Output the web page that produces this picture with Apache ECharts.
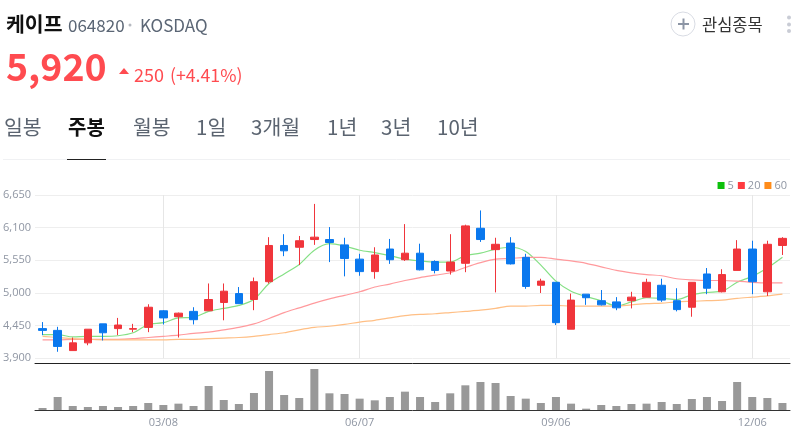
<!DOCTYPE html>
<html>
<head>
<meta charset="utf-8">
<style>
html, body { margin: 0; padding: 0; background: #fff; }
#chart { width: 805px; height: 438px; }
</style>
<script src="https://cdn.jsdelivr.net/npm/echarts@6/dist/echarts.min.js"></script>
</head>
<body>
<div id="chart"></div>
<script>
var semana = ["01/11","01/18","01/25","02/01","02/08","02/15","02/22","03/01","03/08","03/15",
  "03/22","03/29","04/05","04/12","04/19","04/26","05/03","05/10","05/17","05/24",
  "05/31","06/07","06/14","06/21","06/28","07/05","07/12","07/19","07/26","08/02",
  "08/09","08/16","08/23","08/30","09/06","09/13","09/20","09/27","10/04","10/11",
  "10/18","10/25","11/01","11/08","11/15","11/22","11/29","12/06","12/13","12/20"];
var fechasEje = ["03/08","06/07","09/06","12/06"];

// open, close, low, high
var velas = [
  [4400,4370,4290,4510],[4370,4100,4010,4430],[4030,4160,4030,4250],[4160,4390,4120,4390],[4480,4330,4200,4480],
  [4400,4460,4290,4580],[4390,4400,4340,4480],[4420,4760,4340,4810],[4700,4580,4470,4710],[4600,4660,4250,4670],
  [4690,4550,4470,4760],[4700,4890,4700,5160],[4840,5030,4540,5160],[4990,4820,4820,5100],[4890,5190,4710,5260],
  [5190,5800,5160,5940],[5800,5710,5620,5990],[5770,5880,5470,5960],[5900,5940,5810,6500],[5900,5850,5520,6110],
  [5810,5580,5280,5930],[5570,5360,5290,5660],[5360,5640,5240,5770],[5740,5560,5490,5910],[5560,5670,5540,6160],
  [5670,5390,5380,5830],[5530,5380,5330,5550],[5370,5520,5310,5990],[5500,6130,5350,6150],[6090,5900,5860,6390],
  [5730,5820,5010,5930],[5840,5490,5480,5940],[5600,5110,5070,5660],[5130,5200,5000,5240],[5180,4500,4460,5180],
  [4390,4880,4390,4990],[4980,4920,4800,4980],[4870,4800,4790,5050],[4850,4750,4710,4930],[4870,4930,4740,5020],
  [4930,5180,4930,5240],[5130,4880,4850,5240],[4870,4720,4690,5080],[4760,5180,4600,5180],[5320,5080,4980,5420],
  [5020,5310,5010,5400],[5380,5740,5380,5890],[5740,5190,4980,5880],[5020,5820,4950,5880],[5800,5920,5640,5940]
];
var media5 = [4300,4300,4260,4270,4270,4280,4330,4470,4500,4580,
  4590,4690,4740,4790,4890,5160,5320,5480,5720,5830,
  5790,5720,5680,5630,5570,5540,5520,5520,5630,5670,
  5740,5770,5700,5470,5200,5030,4940,4870,4780,4850,
  4920,4910,4890,4970,5010,5030,5180,5280,5420,5600];
var media20 = [4210,4210,4220,4220,4220,4220,4230,4250,4270,4290,
  4320,4340,4380,4420,4480,4570,4670,4750,4830,4900,
  4960,5020,5100,5150,5210,5260,5300,5340,5430,5510,
  5570,5580,5600,5600,5570,5540,5500,5440,5380,5340,
  5310,5290,5240,5220,5210,5210,5200,5180,5170,5170];
var media60 = [4270,4250,4230,4220,4210,4210,4210,4210,4210,4220,
  4220,4230,4240,4250,4270,4300,4330,4380,4420,4440,
  4470,4510,4540,4580,4620,4640,4650,4670,4690,4710,
  4740,4780,4780,4790,4790,4780,4780,4780,4780,4800,
  4820,4830,4850,4860,4870,4880,4910,4930,4950,4980];
var volumen = [6,39,12,9,12,9,12,21,15,19,
  12,72,30,18,51,117,45,36,123,50,
  48,34,29,39,55,39,24,50,74,84,
  81,42,34,21,39,19,4,15,12,18,
  19,24,18,33,39,27,84,39,36,21];

var gris = "#8f96a3";
var chart = echarts.init(document.getElementById('chart'));

function esFecha(index, valor){
  return fechasEje.indexOf(valor) >= 0;
}

function texto(x, y, str, size, color, weight){
  return {
    type: 'text', x: x, y: y, silent: true,
    style: {
      text: str, fill: color, fontSize: size, fontWeight: weight || 'normal',
      fontFamily: '"Noto Sans CJK KR", "Noto Sans", sans-serif',
      verticalAlign: 'middle', align: 'left'
    }
  };
}

function raya(x1, y1, x2, y2, color, w){
  return { type: 'line', silent: true, shape: { x1: x1, y1: y1, x2: x2, y2: y2 }, style: { stroke: color, lineWidth: w } };
}

var cabecera = [
  texto(6, 24, "케이프", 20.5, "#111", 'bold'),
  texto(68, 26, "064820", 17, "#5b6675"),
  { type: 'circle', silent: true, shape: { cx: 130, cy: 25, r: 1.5 }, style: { fill: "#b5b9c0" } },
  texto(140, 26, "KOSDAQ", 17, "#5b6675"),
  texto(6, 67, "5,920", 37.5, "#ff4b50", 'bold'),
  { type: 'polygon', silent: true, shape: { points: [[119,74],[129,74],[124,68]] }, style: { fill: "#ff4b50" } },
  texto(134, 75, "250", 18, "#ff4b50"),
  texto(170, 75, "(+4.41%)", 17.7, "#ff4b50"),
  texto(4, 127, "일봉", 20.5, "#5b6470"),
  texto(68, 127, "주봉", 20, "#111", 'bold'),
  texto(133, 127, "월봉", 20.5, "#5b6470"),
  texto(196, 127, "1일", 20.5, "#5b6470"),
  texto(251, 127, "3개월", 20.5, "#5b6470"),
  texto(327, 127, "1년", 20.5, "#5b6470"),
  texto(381, 127, "3년", 20.5, "#5b6470"),
  texto(437, 127, "10년", 20.5, "#5b6470"),
  raya(3, 159.5, 790, 159.5, "#f0f1f3", 1),
  raya(67, 159.5, 106, 159.5, "#222", 1),
  { type: 'circle', silent: true, shape: { cx: 683, cy: 24, r: 12 }, style: { fill: "#fff", stroke: "#d9dce4", lineWidth: 1 } },
  raya(678, 24, 689, 24, "#8c95a5", 2),
  raya(683.5, 18.5, 683.5, 29.5, "#8c95a5", 2),
  texto(702, 25, "관심종목", 16.5, "#333"),
  { type: 'circle', silent: true, shape: { cx: 789, cy: 17.5, r: 2 }, style: { fill: "#c9ccd5" } },
  { type: 'circle', silent: true, shape: { cx: 789, cy: 24.5, r: 2 }, style: { fill: "#c9ccd5" } },
  { type: 'circle', silent: true, shape: { cx: 789, cy: 31, r: 2 }, style: { fill: "#c9ccd5" } }
];

var option = {
  animation: false,
  backgroundColor: "#fff",
  textStyle: { fontFamily: '"Open Sans", sans-serif' },
  legend: {
    right: 18, top: 180, padding: 0,
    icon: 'rect', itemWidth: 7, itemHeight: 7, itemGap: 4,
    selectedMode: false,
    textStyle: { color: gris, fontSize: 11, padding: [0, 0, 0, -2] },
    data: ['5', '20', '60']
  },
  grid: [
    { left: 35, right: 15, top: 195, height: 163.3 },
    { left: 35, right: 15, top: 363.3, height: 46.7 }
  ],
  xAxis: [
    { type: 'category', gridIndex: 0, data: semana, boundaryGap: true,
      axisLine: { show: false }, axisTick: { show: false }, axisLabel: { show: false },
      splitLine: { show: true, alignWithLabel: true, interval: esFecha, lineStyle: { color: "#e6e6e6" } } },
    { type: 'category', gridIndex: 1, data: semana, boundaryGap: true,
      axisLine: { lineStyle: { color: "#333", width: 1 } },
      axisTick: { alignWithLabel: true, interval: esFecha, length: 4, lineStyle: { color: "#555", width: 2 } },
      axisLabel: { interval: esFecha, color: gris, fontSize: 11, margin: 7 },
      splitLine: { show: false } },
    // linea negra de arriba del volumen
    { type: 'category', gridIndex: 1, position: 'top', data: semana,
      axisLine: { lineStyle: { color: "#222", width: 1 } },
      axisTick: { show: false }, axisLabel: { show: false } }
  ],
  yAxis: [
    { type: 'value', gridIndex: 0, min: 3900, max: 6650, interval: 550, position: 'left',
      axisLine: { show: false }, axisTick: { show: false },
      axisLabel: { color: gris, fontSize: 11, margin: 4,
        formatter: function(v){ return String(v).replace(/(\d)(\d{3})$/, "$1,$2"); } },
      splitLine: { lineStyle: { color: "#eeeeee" } } },
    { type: 'value', gridIndex: 1, min: 0, max: 140, show: false, splitLine: { show: false } }
  ],
  graphic: cabecera,
  series: [
    { name: '5', type: 'line', data: media5, xAxisIndex: 0, yAxisIndex: 0, z: 3, smooth: 0.3, showSymbol: false,
      itemStyle: { color: "#0cc00c" }, lineStyle: { color: "#85e085", width: 1.2 } },
    { name: '20', type: 'line', data: media20, xAxisIndex: 0, yAxisIndex: 0, z: 3, smooth: 0.3, showSymbol: false,
      itemStyle: { color: "#ff3b40" }, lineStyle: { color: "#ff9a9d", width: 1.2 } },
    { name: '60', type: 'line', data: media60, xAxisIndex: 0, yAxisIndex: 0, z: 3, smooth: 0.3, showSymbol: false,
      itemStyle: { color: "#ff8c1a" }, lineStyle: { color: "#ffbf85", width: 1.2 } },
    { name: 'velas', type: 'candlestick', data: velas, xAxisIndex: 0, yAxisIndex: 0, z: 4, barWidth: 8,
      itemStyle: { color: "#f0353b", color0: "#0a78ee", borderColor: "#f0353b", borderColor0: "#0a78ee", borderWidth: 1 } },
    { name: 'volumen', type: 'bar', data: volumen, xAxisIndex: 1, yAxisIndex: 1, barWidth: 8,
      itemStyle: { color: "#999999" } }
  ]
};

chart.setOption(option);
</script>
</body>
</html>
